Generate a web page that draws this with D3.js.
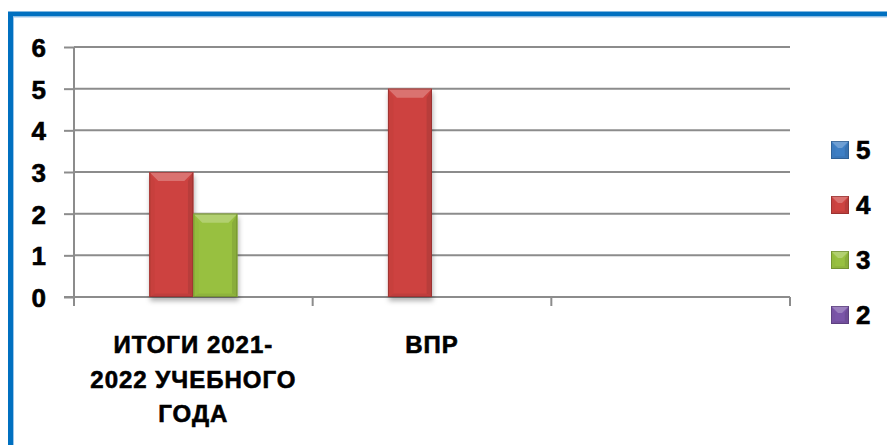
<!DOCTYPE html>
<html>
<head>
<meta charset="utf-8">
<script src="https://cdn.jsdelivr.net/npm/d3@7"></script>
<style>
html,body{margin:0;padding:0;background:#fff;}
svg{display:block;}
text{font-family:"Liberation Sans",Arial,sans-serif;font-weight:bold;fill:#000;stroke:#000;stroke-width:0.6px;}
</style>
</head>
<body>
<svg id="chart" width="887" height="445"></svg>
<script>
// ---- data ----
const categories = ["ИТОГИ 2021-2022 УЧЕБНОГО ГОДА", "ВПР", ""];
const categoryLines = [["ИТОГИ 2021-", "2022 УЧЕБНОГО", "ГОДА"], ["ВПР"], [""]];
const seriesNames = ["5", "4", "3", "2"];
const values5 = [0, 0, 0];
const values4 = [3, 5, 0];
const values3 = [2, 0, 0];
const values2 = [0, 0, 0];
const yTicks = [0, 1, 2, 3, 4, 5, 6];
const seriesColors = ["#3f7fc4", "#cd4340", "#98c040", "#7a55a8"];

const seriesValues = [values5, values4, values3, values2];

const svg = d3.select("#chart");

// frame
svg.append("rect").attr("x", 10.5).attr("y", 14).attr("width", 900).attr("height", 460)
  .attr("fill", "none").attr("stroke", "#0070c0").attr("stroke-width", 5);
svg.append("rect").attr("x", 13.5).attr("y", 17).attr("width", 900).attr("height", 460)
  .attr("fill", "none").attr("stroke", "#9cc6ea").attr("stroke-width", 1);

const defs = svg.append("defs");
const f = defs.append("filter").attr("id", "shadow").attr("x", "-20%").attr("y", "-10%").attr("width", "140%").attr("height", "130%");
f.append("feDropShadow").attr("dx", 1).attr("dy", 4).attr("stdDeviation", 2.5)
  .attr("flood-color", "#000").attr("flood-opacity", 0.3);

const plotLeft = 74, plotRight = 790, plotTop = 47, plotBottom = 297;

const y = d3.scaleLinear().domain([0, 6]).range([plotBottom, plotTop]);
const x0 = d3.scaleBand().domain(categories).range([plotLeft, plotRight]).paddingInner(0).paddingOuter(0);
const x1 = d3.scaleBand().domain(seriesNames).range([0, x0.bandwidth()]).paddingInner(0).paddingOuter(0.71);

// gridlines
svg.append("g").selectAll("line").data(yTicks).join("line")
  .attr("x1", plotLeft).attr("x2", plotRight)
  .attr("y1", d => y(d)).attr("y2", d => y(d))
  .attr("stroke", "#8c8c8c").attr("stroke-width", 2);

// y axis
const yAxis = svg.append("g").attr("transform", `translate(${plotLeft},0)`)
  .call(d3.axisLeft(y).tickValues(yTicks).tickSize(10).tickPadding(18).tickFormat(d3.format("d")));
yAxis.select(".domain").attr("stroke", "#8c8c8c").attr("stroke-width", 2).attr("d", `M0,${plotTop}V${plotBottom}`);
yAxis.selectAll(".tick line").attr("stroke", "#8c8c8c").attr("stroke-width", 2);
yAxis.selectAll(".tick text").attr("font-size", 26).attr("font-family", "Liberation Sans, Arial, sans-serif")
  .attr("font-weight", "bold").attr("fill", "#000").attr("dy", "0.36em");

// x axis line and boundary ticks
const boundaries = categories.map(c => x0(c)).concat([x0(categories[categories.length - 1]) + x0.bandwidth()]);
svg.append("line").attr("x1", plotLeft - 10).attr("x2", plotRight).attr("y1", plotBottom).attr("y2", plotBottom)
  .attr("stroke", "#8c8c8c").attr("stroke-width", 2);
svg.append("g").selectAll("line").data(boundaries).join("line")
  .attr("x1", d => d).attr("x2", d => d).attr("y1", plotBottom).attr("y2", plotBottom + 9)
  .attr("stroke", "#8c8c8c").attr("stroke-width", 2);

// category labels
const lab = svg.append("g");
categories.forEach((c, i) => {
  const t = lab.append("text").attr("x", x0(c) + x0.bandwidth() / 2).attr("y", 353)
    .attr("text-anchor", "middle").attr("font-size", 24).attr("letter-spacing", 1);
  categoryLines[i].forEach((ln, j) => {
    t.append("tspan").attr("x", x0(c) + x0.bandwidth() / 2).attr("y", 353 + j * 34.5).text(ln);
  });
});

function shade(col, k) {
  const c = d3.color(col);
  return k > 0 ? c.brighter(k).formatHex() : c.darker(-k).formatHex();
}

function bevelBar(g, x, yT, w, h, col, b) {
  const grp = g.append("g");
  grp.append("rect").attr("x", x).attr("y", yT).attr("width", w).attr("height", h).attr("fill", col);
  grp.append("polygon").attr("points", [[x, yT], [x + w, yT], [x + w - b, yT + b], [x + b, yT + b]].join(" "))
    .attr("fill", d3.interpolateRgb(col, "#ffffff")(0.25));
  grp.append("polygon").attr("points", [[x, yT], [x + b * 0.6, yT + b], [x + b * 0.6, yT + h - b * 0.4], [x, yT + h]].join(" "))
    .attr("fill", shade(col, -0.08));
  grp.append("polygon").attr("points", [[x + w, yT], [x + w - b * 0.6, yT + b], [x + w - b * 0.6, yT + h - b * 0.4], [x + w, yT + h]].join(" "))
    .attr("fill", shade(col, -0.3));
  grp.append("polygon").attr("points", [[x, yT + h], [x + b * 0.6, yT + h - b * 0.4], [x + w - b * 0.6, yT + h - b * 0.4], [x + w, yT + h]].join(" "))
    .attr("fill", shade(col, -0.2));
  grp.append("rect").attr("x", x + 0.5).attr("y", yT + 0.5).attr("width", w - 1).attr("height", h - 1)
    .attr("fill", "none").attr("stroke", shade(col, -1.2)).attr("stroke-width", 1).attr("stroke-opacity", 0.6);
  return grp;
}

// bars
const barsG = svg.append("g").attr("filter", "url(#shadow)");
seriesNames.forEach((s, si) => {
  categories.forEach((c, ci) => {
    const v = seriesValues[si][ci];
    if (!v) return;
    const bx = x0(c) + x1(s);
    const by = y(v);
    bevelBar(barsG, bx, by, x1.bandwidth(), y(0) - by, seriesColors[si], 9);
  });
});

// legend
const legendY = [150, 205, 260, 315];
const leg = svg.append("g");
seriesNames.forEach((s, i) => {
  bevelBar(leg, 831, legendY[i] - 9, 18, 18, seriesColors[i], 7);
  leg.append("text").attr("x", 856).attr("y", legendY[i]).attr("dy", "0.36em")
    .attr("font-size", 26).text(s);
});
</script>
</body>
</html>
